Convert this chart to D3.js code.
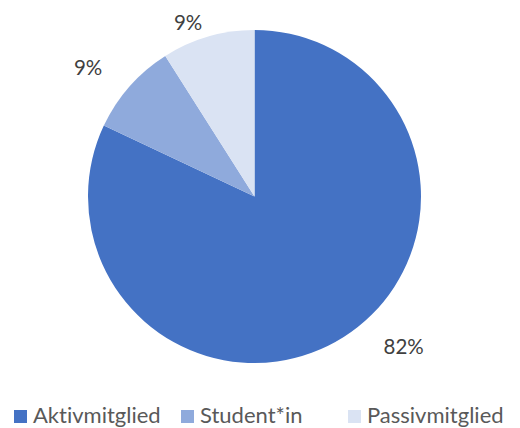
<!DOCTYPE html>
<html>
<head>
<meta charset="utf-8">
<script src="https://cdn.jsdelivr.net/npm/d3@7"></script>
<style>
	body { margin: 0; background: #fff; }
	svg { display: block; font-family: Lato, 'Open Sans', sans-serif; font-variant-ligatures: none; }
</style>
</head>
<body>
<script>

const categories = ['Aktivmitglied', 'Student*in', 'Passivmitglied'];
const values = [82, 9, 9];
const percentLabels = ['82%', '9%', '9%'];

const width = 520;
const height = 428;
const cx = 254.5;
const cy = 196.5;
const radius = 166.5;

const color = d3.scaleOrdinal()
	.domain(categories)
	.range(['#4472C4', '#8FAADC', '#DAE3F3']);

const svg = d3.select('body')
	.append('svg')
	.attr('width', width)
	.attr('height', height);

const pie = d3.pie()
	.sort(null)
	.value(d => d.value);

const data = categories.map((c, i) => ({ name: c, value: values[i], label: percentLabels[i] }));
const arcs = pie(data);

const arc = d3.arc()
	.innerRadius(0)
	.outerRadius(radius);

const g = svg.append('g')
	.attr('transform', 'translate(' + cx + ',' + cy + ')');

g.selectAll('path')
	.data(arcs)
	.enter()
	.append('path')
	.attr('d', arc)
	.attr('fill', d => color(d.data.name));

// labels sit outside the slices, roughly like Office's "best fit"
const labelRadius = [211, 211, 187];
const labelShift = [-0.22, -0.06, -0.08];

g.selectAll('text.pct')
	.data(arcs)
	.enter()
	.append('text')
	.attr('class', 'pct')
	.attr('x', (d, i) => {
		const a = (d.startAngle + d.endAngle) / 2 + labelShift[i];
		return Math.sin(a) * labelRadius[i];
	})
	.attr('y', (d, i) => {
		const a = (d.startAngle + d.endAngle) / 2 + labelShift[i];
		return -Math.cos(a) * labelRadius[i];
	})
	.attr('text-anchor', 'middle')
	.attr('dominant-baseline', 'central')
	.attr('font-size', 20.5)
	.attr('fill', '#404040')
	.text(d => d.data.label);

// legend
const legendX = d3.scalePoint()
	.domain(categories)
	.range([14, 348]);

const legend = svg.selectAll('g.legend')
	.data(categories)
	.enter()
	.append('g')
	.attr('class', 'legend')
	.attr('transform', d => 'translate(' + legendX(d) + ',' + 410 + ')');

legend.append('rect')
	.attr('width', 13)
	.attr('height', 13)
	.attr('fill', d => color(d));

legend.append('text')
	.attr('x', 19)
	.attr('y', 12.5)
	.attr('font-size', 22)
	.attr('fill', '#595959')
	.text(d => d);

</script>
</body>
</html>
